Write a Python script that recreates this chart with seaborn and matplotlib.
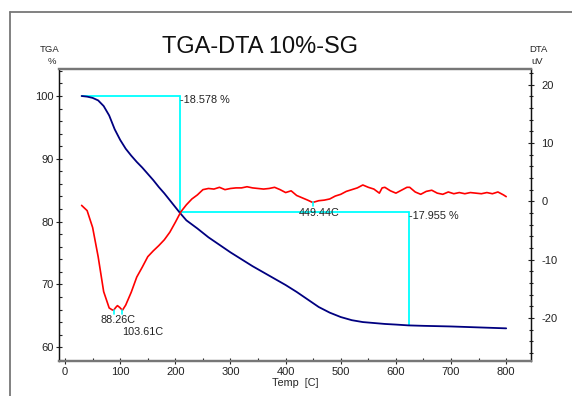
import numpy as np
import pandas as pd
import matplotlib
matplotlib.use("Agg")
import matplotlib.pyplot as plt
from matplotlib.lines import Line2D
from matplotlib.ticker import MultipleLocator
import seaborn as sns

# ---- data ----
tga_temp = [30, 40, 50, 60, 70, 80, 90, 100, 110, 120, 130, 140, 150, 160, 170, 180, 190, 200, 208,
            220, 240, 260, 280, 300, 320, 340, 360, 380, 400, 420, 440, 460, 480, 500, 520, 540, 560,
            580, 600, 623, 650, 700, 750, 800]
tga_val = [100, 99.9, 99.7, 99.3, 98.4, 96.9, 94.7, 93.0, 91.6, 90.5, 89.5, 88.6, 87.6, 86.6, 85.5,
           84.5, 83.4, 82.3, 81.42, 80.2, 78.9, 77.5, 76.3, 75.1, 74.0, 72.9, 71.9, 70.9, 69.9, 68.8,
           67.6, 66.4, 65.5, 64.8, 64.3, 64.0, 63.85, 63.7, 63.6, 63.47, 63.4, 63.3, 63.15, 63.0]

dta_temp = [30, 40, 50, 60, 70, 80, 85, 88, 92, 95, 99, 104, 110, 120, 130, 140, 150, 160, 170, 180,
            190, 200, 210, 220, 230, 240, 250, 260, 270, 280, 290, 300, 310, 320, 330, 340, 350, 360,
            370, 380, 390, 400, 410, 420, 430, 440, 449, 460, 470, 480, 490, 500, 510, 520, 530, 540,
            550, 560, 570, 575, 580, 590, 600, 610, 620, 625, 635, 645, 655, 665, 675, 685, 695, 705,
            715, 725, 735, 745, 755, 765, 775, 785, 795, 800]
dta_val = [-0.7, -1.6, -4.5, -9.5, -15.5, -18.3, -18.6, -18.7, -18.2, -17.9, -18.2, -18.7, -17.8,
           -15.6, -13.0, -11.3, -9.5, -8.5, -7.6, -6.6, -5.3, -3.6, -1.8, -0.6, 0.4, 1.1, 2.0, 2.2,
           2.1, 2.4, 2.0, 2.2, 2.3, 2.3, 2.5, 2.3, 2.2, 2.1, 2.2, 2.4, 2.0, 1.5, 1.8, 1.0, 0.6, 0.2,
           -0.2, 0.1, 0.2, 0.4, 0.9, 1.2, 1.7, 2.0, 2.3, 2.8, 2.4, 2.1, 1.4, 2.3, 2.4, 1.8, 1.4, 1.9,
           2.4, 2.4, 1.6, 1.2, 1.7, 1.9, 1.4, 1.2, 1.6, 1.3, 1.5, 1.3, 1.5, 1.4, 1.3, 1.5, 1.3, 1.6,
           1.1, 0.8]

step1 = {"t0": 30, "t1": 208, "y0": 100.0, "y1": 81.42, "label": "-18.578 %"}
step2 = {"t0": 208, "t1": 623, "y0": 81.6, "y1": 63.47, "label": "-17.955 %"}
peak_temps = [88.26, 103.61, 449.44]
peak_vals = [-18.7, -18.7, -0.2]
peak_labels = ["88.26C", "103.61C", "449.44C"]

sns.set_style("ticks")
plt.rcParams["font.family"] = ["Liberation Sans", "DejaVu Sans"]
plt.rcParams["axes.unicode_minus"] = False

W, H = 572, 396
fig = plt.figure(figsize=(W / 100, H / 100), dpi=100)
L, R, T, B = 59, 531, 69, 361
ax = fig.add_axes([L / W, 1 - B / H, (R - L) / W, (B - T) / H])
ax2 = ax.twinx()

tga_df = pd.DataFrame({"Temp": tga_temp, "TGA": tga_val})
dta_df = pd.DataFrame({"Temp": dta_temp, "DTA": dta_val})

sns.lineplot(data=tga_df, x="Temp", y="TGA", ax=ax, color="#000080", lw=1.3, zorder=3)
sns.lineplot(data=dta_df, x="Temp", y="DTA", ax=ax2, color="#ff0000", lw=1.2, zorder=3)

cyan = "#00ffff"
for s in (step1, step2):
    ax.plot([s["t0"], s["t1"]], [s["y0"], s["y0"]], color=cyan, lw=1.3, zorder=2)
    ax.plot([s["t1"], s["t1"]], [s["y0"], s["y1"]], color=cyan, lw=1.3, zorder=2)
ax.text(step1["t1"], step1["y0"] + 0.1, step1["label"], fontsize=7.8, va="top", ha="left", color="#222222")
ax.text(step2["t1"], step2["y0"] + 0.1, step2["label"], fontsize=7.8, va="top", ha="left", color="#222222")

for t, v in zip(peak_temps, peak_vals):
    ax2.plot([t, t], [v, v - 0.6], color=cyan, lw=1.2, zorder=4)
ax2.text(96.6, -20.3, peak_labels[0], fontsize=7.8, ha="center", va="center", color="#222222")
ax2.text(141, -22.5, peak_labels[1], fontsize=7.8, ha="center", va="center", color="#222222")
ax2.text(460, -2.0, peak_labels[2], fontsize=7.8, ha="center", va="center", color="#222222")

ax.set_xlim(-11, 845)
ax.set_ylim(57.8, 104.3)
ax2.set_ylim(-27.4, 22.7)

ax.xaxis.set_major_locator(MultipleLocator(100))
ax.xaxis.set_minor_locator(MultipleLocator(50))
ax.yaxis.set_major_locator(MultipleLocator(10))
ax.yaxis.set_minor_locator(MultipleLocator(2))
ax2.yaxis.set_major_locator(MultipleLocator(10))
ax2.yaxis.set_minor_locator(MultipleLocator(2))

ax.set_xlabel("Temp  [C]", fontsize=7.8, labelpad=1)
ax.set_ylabel("")
ax2.set_ylabel("")

ax.tick_params(axis="both", which="major", direction="inout", length=5, width=0.8,
               labelsize=8, colors="#222222", pad=1.5, top=False, right=False)
ax.tick_params(axis="both", which="minor", direction="in", length=2.5, width=0.8,
               colors="#222222", top=False, right=False)
ax2.tick_params(axis="y", which="major", direction="inout", length=5, width=0.8,
                labelsize=8, colors="#222222", pad=5, left=False)
ax2.tick_params(axis="y", which="minor", direction="inout", length=2.5, width=0.8,
                colors="#222222", left=False)
ax2.tick_params(axis="x", which="both", top=False, bottom=False, labeltop=False, labelbottom=False)

for a in (ax, ax2):
    a.spines["top"].set_color("#777777")
    a.spines["top"].set_linewidth(1.6)
    a.spines["bottom"].set_color("#777777")
    a.spines["bottom"].set_linewidth(1.6)
    a.spines["left"].set_color("#111111")
    a.spines["left"].set_linewidth(0.9)
    a.spines["right"].set_color("#111111")
    a.spines["right"].set_linewidth(0.9)
ax.grid(False)
ax2.grid(False)

fig.text(260 / W, 1 - 47 / H, "TGA-DTA 10%-SG", fontsize=17, ha="center", va="center", color="#111111")
fig.text(50 / W, 1 - 49 / H, "TGA", fontsize=6.8, ha="center", va="center", color="#222222")
fig.text(52 / W, 1 - 61 / H, "%", fontsize=6.8, ha="center", va="center", color="#222222")
fig.text(538 / W, 1 - 49 / H, "DTA", fontsize=6.8, ha="center", va="center", color="#222222")
fig.text(537 / W, 1 - 61 / H, "uV", fontsize=6.8, ha="center", va="center", color="#222222")

fig.add_artist(Line2D([9.5 / W, 9.5 / W], [0, 1 - 12 / H], transform=fig.transFigure,
                      color="#777777", lw=1.3))
fig.add_artist(Line2D([9.5 / W, 1], [1 - 12 / H, 1 - 12 / H], transform=fig.transFigure,
                      color="#777777", lw=1.3))

fig.savefig("out.png", dpi=100)
